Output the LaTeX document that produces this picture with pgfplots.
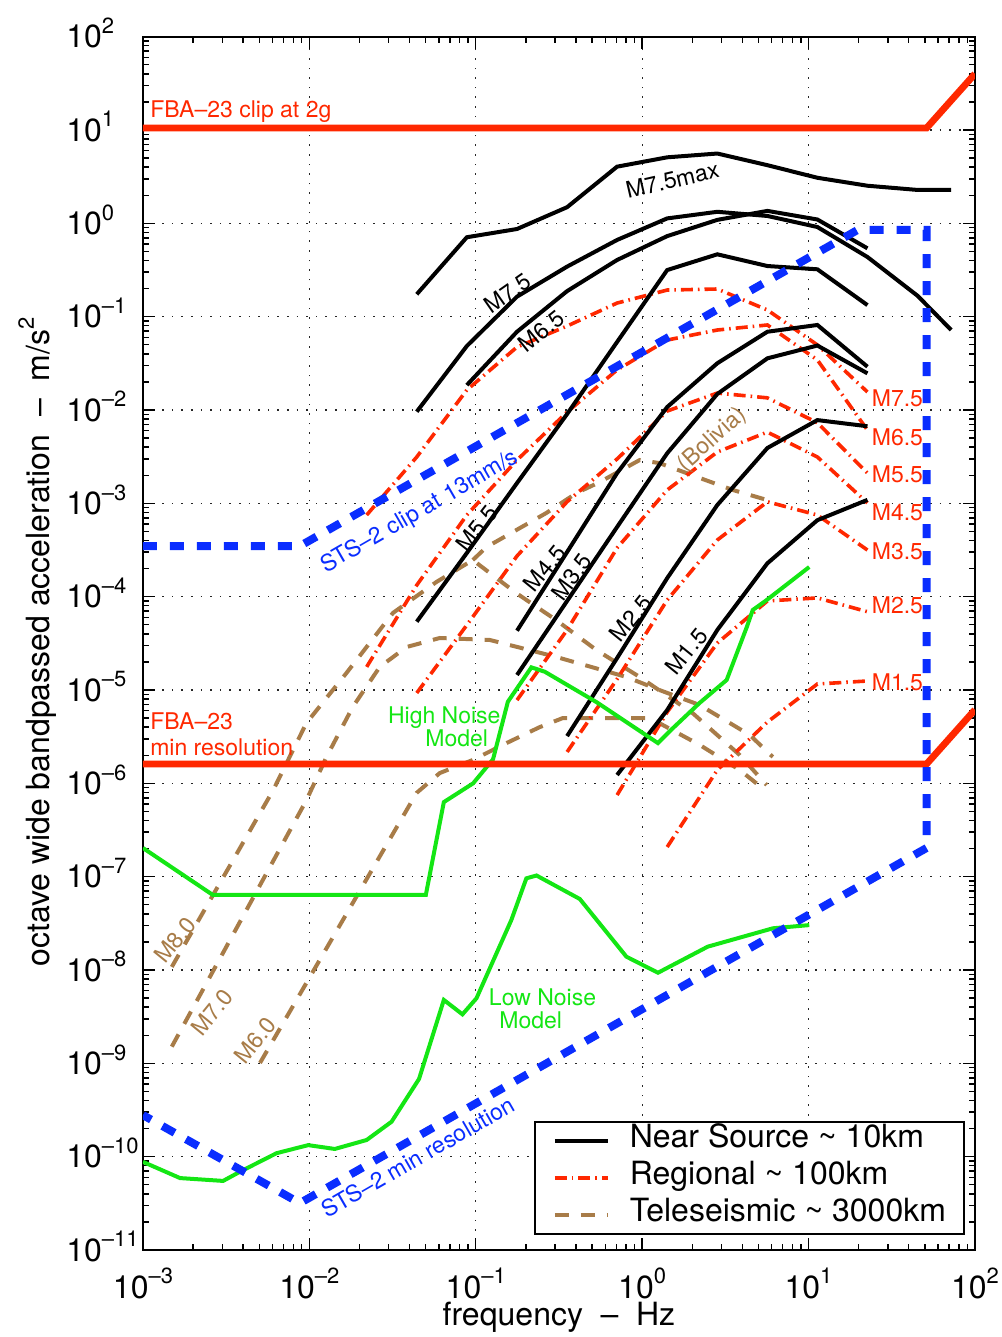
\documentclass[border=0pt]{standalone}
\usepackage{fontspec}
\setmainfont{TeX Gyre Heros}
\setsansfont{TeX Gyre Heros}
\usepackage{pgfplots}
\pgfplotsset{compat=1.18}

\definecolor{fbared}{RGB}{255,40,0}
\definecolor{stsblue}{RGB}{10,45,255}
\definecolor{nmgreen}{RGB}{20,230,20}
\definecolor{telebrown}{RGB}{168,124,72}

\newcommand{\ee}[1]{10\raisebox{0.45em}{\fontsize{11}{11}\selectfont #1}}
\newcommand{\annfont}{\fontsize{11.5}{13}\selectfont}

\begin{document}
\begin{tikzpicture}
\useasboundingbox (-71.5pt,-43.5pt) rectangle (429.5pt,625.05pt);
\begin{axis}[
  at={(0pt,0pt)}, anchor=south west,
  scale only axis, width=416pt, height=606.7pt,
  xmode=log, ymode=log,
  xmin=1e-3, xmax=1e2, ymin=1e-11, ymax=1e2,
  xtick={1e-3,1e-2,1e-1,1e0,1e1,1e2},
  xticklabels={\ee{–3},\ee{–2},\ee{–1},\ee{0},\ee{1},\ee{2}},
  ytick={1e-11,1e-10,1e-9,1e-8,1e-7,1e-6,1e-5,1e-4,1e-3,1e-2,1e-1,1e0,1e1,1e2},
  yticklabels={\ee{–11},\ee{–10},\ee{–9},\ee{–8},\ee{–7},\ee{–6},\ee{–5},\ee{–4},\ee{–3},\ee{–2},\ee{–1},\ee{0},\ee{1},\ee{2}},
  tick label style={font=\fontsize{16}{16}\selectfont},
  xticklabel style={anchor=base, yshift=-24pt, inner sep=0pt},
  yticklabel style={anchor=base west, xshift=-38.5pt, yshift=-5.6pt, inner sep=0pt},
  tick align=inside,
  major tick length=6pt, minor tick length=3pt,
  every tick/.style={black, line width=0.7pt},
  axis line style={line width=1pt},
  grid=major,
  major grid style={black!85, line width=0.6pt, dash pattern=on 0.8pt off 4pt},
  label style={font=\fontsize{16}{19}\selectfont},
  xlabel={frequency\hspace{0.55em}–\hspace{0.55em}Hz},
  ylabel={octave wide bandpassed acceleration\hspace{0.55em}–\hspace{0.55em}m/s\raisebox{0.5em}{\fontsize{11}{11}\selectfont 2}},
  xlabel style={at={(rel axis cs:0.5,-0.0626)}, anchor=base},
  ylabel style={at={(rel axis cs:-0.1118,0.501)}, anchor=base, rotate=0},
  legend style={at={(0.988,0.0124)}, anchor=south east, draw=black, line width=1pt,
    font=\fontsize{16}{18.5}\selectfont, inner xsep=9pt, inner ysep=1.5pt, row sep=2.5pt,
    nodes={inner sep=0pt, text height=11.5pt, text depth=4.5pt}},
  legend cell align=left,
  legend image code/.code={\draw[#1] (0pt,0pt) -- (26.5pt,0pt); \path (36.5pt,0pt);},
]
\addlegendimage{black, line width=2pt}
\addlegendentry{Near Source \textasciitilde\ 10km}
\addlegendimage{fbared, line width=1.8pt, dash pattern=on 6pt off 2.5pt on 0.8pt off 2.5pt}
\addlegendentry{Regional \textasciitilde\ 100km}
\addlegendimage{telebrown, line width=2pt, dash pattern=on 7pt off 6pt}
\addlegendentry{Teleseismic \textasciitilde\ 3000km}

% ---------- Teleseismic (brown dashed)
\pgfplotsset{tele/.style={telebrown, line width=2pt, dash pattern=on 7pt off 6pt, forget plot}}
\addplot[tele] coordinates {(1.49e-3,1.08e-8) (6.07e-3,8.5e-7) (9.6e-3,4.43e-6) (0.0167,1.52e-5) (0.0318,6.7e-5) (0.0581,1.44e-4) (0.096,2.47e-4) (0.1755,1.09e-4) (0.305,5.6e-5) (0.531,2.68e-5) (0.966,1.38e-5) (2.01,5.66e-6) (3.86,2.01e-6) (5.6,9.6e-7)};
\addplot[tele] coordinates {(0.096,2.47e-4) (0.116,3.4e-4) (0.1755,5.18e-4) (0.266,7.9e-4) (0.403,1.29e-3) (0.556,1.69e-3) (0.966,2.91e-3) (1.27,2.7e-3) (2.22,1.87e-3) (3.51,1.39e-3) (5.6,1.09e-3)};
\addplot[tele] coordinates {(1.49e-3,1.51e-9) (9.6e-3,6.6e-7) (0.01268,1.92e-6) (0.01824,6.6e-6) (0.0265,1.77e-5) (0.0384,2.89e-5) (0.0608,3.61e-5) (0.1214,3.44e-5) (0.305,2.26e-5) (0.804,1.38e-5) (1.27,1.0e-5) (2.22,6.9e-6) (4.43,3.3e-6) (6.1,1.92e-6)};
\addplot[tele] coordinates {(5.05e-3,1.01e-9) (0.0441,7.9e-7) (0.0608,1.29e-6) (0.096,1.78e-6) (0.153,2.7e-6) (0.242,4.0e-6) (0.333,5.0e-6) (1.115,5.0e-6) (2.22,2.58e-6) (3.86,1.39e-6) (5.45,8.5e-7)};

% ---------- Regional (red dash-dot)
\pgfplotsset{regio/.style={fbared, line width=1.8pt, dash pattern=on 6pt off 2.5pt on 0.8pt off 2.5pt, forget plot}}
\addplot[regio] coordinates {(0.0221,7.5e-4) (0.0442,3.14e-3) (0.0884,0.0164) (0.177,0.0473) (0.354,0.0794) (0.707,0.140) (1.414,0.193) (2.83,0.198) (5.66,0.118) (11.3,0.0498) (22.6,0.0156)};
\addplot[regio] coordinates {(0.0221,1.77e-5) (0.0442,1.33e-4) (0.0884,7.5e-4) (0.177,2.91e-3) (0.354,9.5e-3) (0.707,0.0269) (1.414,0.0562) (2.83,0.0720) (5.66,0.0815) (11.3,0.0344) (22.6,6.1e-3)};
\addplot[regio] coordinates {(0.0442,9.3e-6) (0.0884,4.97e-5) (0.177,2.73e-4) (0.354,1.04e-3) (0.707,2.99e-3) (1.414,9.75e-3) (2.83,0.0152) (5.66,0.0135) (11.3,7.3e-3) (22.6,2.11e-3)};
\addplot[regio] coordinates {(0.177,7.8e-6) (0.354,4.4e-5) (0.707,3.33e-4) (1.414,1.39e-3) (2.83,3.55e-3) (5.66,5.8e-3) (11.3,3.14e-3) (22.6,1.01e-3)};
\addplot[regio] coordinates {(0.354,2.17e-6) (0.707,1.31e-5) (1.414,9.2e-5) (2.83,4.05e-4) (5.66,1.04e-3) (11.3,7.5e-4) (22.6,3.16e-4)};
\addplot[regio] coordinates {(0.707,7.5e-7) (1.414,5.8e-6) (2.83,3.19e-5) (5.66,9.0e-5) (11.3,9.7e-5) (22.6,6.9e-5)};
\addplot[regio] coordinates {(1.414,2.08e-7) (2.83,1.39e-6) (5.66,4.54e-6) (11.3,1.16e-5) (22.6,1.25e-5)};

% ---------- Near source (black)
\pgfplotsset{near/.style={black, line width=2pt, forget plot}}
\addplot[near] coordinates {(0.0442,0.174) (0.0884,0.71) (0.177,0.87) (0.354,1.49) (0.707,4.05) (1.414,5.1) (2.83,5.6) (5.66,4.2) (11.3,3.08) (22.6,2.53) (45.3,2.28) (72,2.28)};
\addplot[near] coordinates {(0.0442,9.6e-3) (0.0884,0.0485) (0.177,0.164) (0.354,0.344) (0.707,0.664) (1.414,1.13) (2.83,1.33) (5.66,1.20) (11.3,0.914) (22.6,0.436) (45.3,0.167) (72,0.072)};
\addplot[near] coordinates {(0.0884,0.0185) (0.177,0.069) (0.354,0.188) (0.707,0.405) (1.414,0.73) (2.83,1.09) (5.66,1.36) (11.3,1.10) (22.6,0.54)};
\addplot[near] coordinates {(0.0442,5.4e-5) (0.0884,2.94e-4) (0.177,1.65e-3) (0.354,9.06e-3) (0.707,0.0536) (1.414,0.316) (2.83,0.466) (5.66,0.349) (11.3,0.322) (22.6,0.133)};
\addplot[near] coordinates {(0.177,4.32e-5) (0.354,3.01e-4) (0.707,2.11e-3) (1.414,0.01076) (2.83,0.0317) (5.66,0.069) (11.3,0.0815) (22.6,0.0291)};
\addplot[near] coordinates {(0.177,1.45e-5) (0.354,9.0e-5) (0.707,5.58e-4) (1.414,3.44e-3) (2.83,0.01486) (5.66,0.0358) (11.3,0.0491) (22.6,0.0247)};
\addplot[near] coordinates {(0.354,3.21e-6) (0.707,2.2e-5) (1.414,1.58e-4) (2.83,9.6e-4) (5.66,3.92e-3) (11.3,7.8e-3) (22.6,6.7e-3)};
\addplot[near] coordinates {(0.707,1.23e-6) (1.414,6.1e-6) (2.83,4.4e-5) (5.66,2.28e-4) (11.3,6.6e-4) (22.6,1.09e-3)};

% ---------- Noise models (green)
\pgfplotsset{noise/.style={nmgreen, line width=2pt, forget plot}}
\addplot[noise] coordinates {(1e-3,2.03e-7) (2.63e-3,6.37e-8) (0.0501,6.37e-8) (0.0643,6.3e-7) (0.0964,1.0e-6) (0.127,1.81e-6) (0.156,7.5e-6) (0.216,1.75e-5) (0.260,1.57e-5) (0.533,7.4e-6) (1.244,2.7e-6) (1.53,3.9e-6) (2.22,7.3e-6) (3.22,1.28e-5) (4.25,4.7e-5) (4.62,7.2e-5) (5.6,9.2e-5) (10.1,2.08e-4)};
\addplot[noise] coordinates {(1e-3,8.8e-11) (1.67e-3,5.9e-11) (3.03e-3,5.5e-11) (3.83e-3,6.9e-11) (6.35e-3,1.09e-10) (9.84e-3,1.33e-10) (0.01422,1.21e-10) (0.0221,1.51e-10) (0.0312,2.37e-10) (0.0456,6.8e-10) (0.0643,4.78e-9) (0.0832,3.35e-9) (0.101,4.98e-9) (0.1637,3.44e-8) (0.2014,9.6e-8) (0.2317,1.03e-7) (0.422,5.77e-8) (0.804,1.39e-8) (1.245,9.35e-9) (2.48,1.78e-8) (6.11,2.8e-8) (10.1,3.03e-8)};

% ---------- FBA-23 (red thick)
\addplot[fbared, line width=3.4pt, forget plot] coordinates {(1e-3,10.5) (51.2,10.5) (100,40.0)};
\addplot[fbared, line width=3.4pt, forget plot] coordinates {(1e-3,1.61e-6) (51.2,1.61e-6) (100,6.14e-6)};

% ---------- STS-2 (blue dashed)
\addplot[stsblue, line width=4pt, dash pattern=on 7pt off 6.5pt, forget plot] coordinates {(1e-3,3.49e-4) (8.77e-3,3.49e-4) (19.7,0.849) (51.2,0.849) (51.2,2.03e-7) (8.77e-3,3.18e-11) (1e-3,2.79e-10)};

% ---------- annotations
\node[anchor=west, text=fbared, font=\annfont, inner sep=0pt] at (axis cs:1.1e-3,15.6) {FBA–23 clip at 2g};
\node[anchor=west, text=fbared, font=\annfont, inner sep=0pt, align=left] at (axis cs:1.1e-3,3.38e-6) {FBA–23\\min resolution};
\node[text=black, font=\annfont, rotate=13] at (axis cs:1.52,2.92) {M7.5max};
\node[text=black, font=\annfont, rotate=35] at (axis cs:0.1556,0.1795) {M7.5};
\node[text=black, font=\annfont, rotate=39] at (axis cs:0.249,0.0703) {M6.5};
\node[text=black, font=\annfont, rotate=52] at (axis cs:0.1014,5.44e-4) {M5.5};
\node[text=black, font=\annfont, rotate=51] at (axis cs:0.2595,2.03e-4) {M4.5};
\node[text=black, font=\annfont, rotate=54] at (axis cs:0.3775,1.63e-4) {M3.5};
\node[text=black, font=\annfont, rotate=51] at (axis cs:0.853,5.9e-5) {M2.5};
\node[text=black, font=\annfont, rotate=51] at (axis cs:1.85,2.62e-5) {M1.5};
\node[anchor=west, text=fbared, font=\annfont, inner sep=0pt] at (axis cs:23.9,0.01334) {M7.5};
\node[anchor=west, text=fbared, font=\annfont, inner sep=0pt] at (axis cs:23.9,5.14e-3) {M6.5};
\node[anchor=west, text=fbared, font=\annfont, inner sep=0pt] at (axis cs:23.9,2.06e-3) {M5.5};
\node[anchor=west, text=fbared, font=\annfont, inner sep=0pt] at (axis cs:23.9,8.07e-4) {M4.5};
\node[anchor=west, text=fbared, font=\annfont, inner sep=0pt] at (axis cs:23.9,3.08e-4) {M3.5};
\node[anchor=west, text=fbared, font=\annfont, inner sep=0pt] at (axis cs:23.9,8.1e-5) {M2.5};
\node[anchor=west, text=fbared, font=\annfont, inner sep=0pt] at (axis cs:23.9,1.22e-5) {M1.5};
\node[text=stsblue, font=\annfont, rotate=30] at (axis cs:0.0462,8.07e-4) {STS–2 clip at 13mm/s};
\node[text=stsblue, font=\annfont, rotate=30] at (axis cs:0.0449,9.9e-11) {STS–2 min resolution};
\node[text=nmgreen, font=\annfont] at (axis cs:0.0647,5.0e-6) {High Noise};
\node[text=nmgreen, font=\annfont] at (axis cs:0.0769,3.06e-6) {Model};
\node[text=nmgreen, font=\annfont] at (axis cs:0.252,5.14e-9) {Low Noise};
\node[text=nmgreen, font=\annfont] at (axis cs:0.2138,2.91e-9) {Model};
\node[text=telebrown, font=\annfont, rotate=42] at (axis cs:2.65,4.77e-3) {(Bolivia)};
\node[text=telebrown, font=\annfont, rotate=51] at (axis cs:1.556e-3,2.1e-8) {M8.0};
\node[text=telebrown, font=\annfont, rotate=51] at (axis cs:2.6e-3,3.55e-9) {M7.0};
\node[text=telebrown, font=\annfont, rotate=51] at (axis cs:4.71e-3,1.78e-9) {M6.0};
\end{axis}
\end{tikzpicture}
\end{document}
